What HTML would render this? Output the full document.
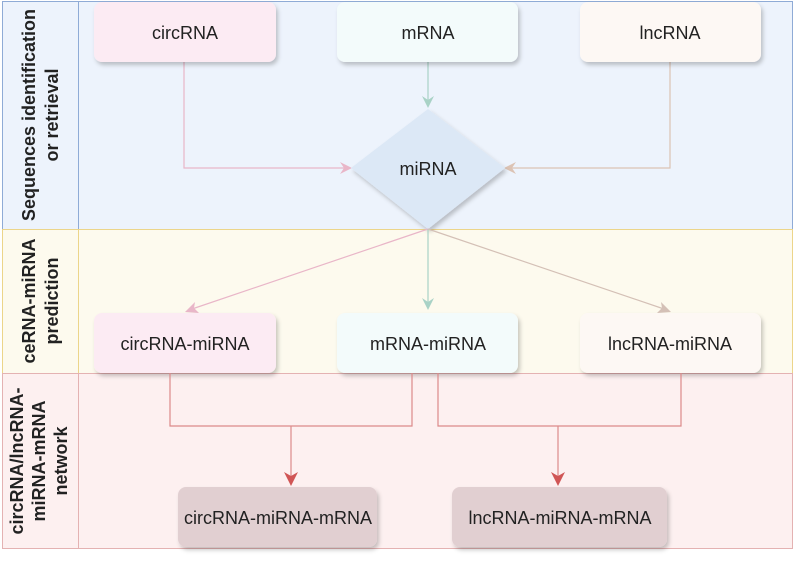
<!DOCTYPE html>
<html><head><meta charset="utf-8"><style>
body{margin:0;background:#fff;width:800px;height:558px;overflow:hidden;font-family:"Liberation Sans",sans-serif}
</style></head><body>
<svg width="800" height="558" viewBox="0 0 800 558" xmlns="http://www.w3.org/2000/svg" font-family="Liberation Sans, sans-serif">
<defs>
<filter id="sh" x="-10%" y="-10%" width="130%" height="140%"><feDropShadow dx="2" dy="3" stdDeviation="2" flood-color="#000" flood-opacity="0.22"/></filter>
</defs>
<rect x="2.5" y="1.5" width="790" height="228" fill="#edf3fc" stroke="#8fabd6"/>
<line x1="78.5" y1="1.5" x2="78.5" y2="229.5" stroke="#8fabd6"/>
<rect x="2.5" y="229.5" width="790" height="144" fill="#fdfaee" stroke="#ecd58a"/>
<line x1="78.5" y1="229.5" x2="78.5" y2="373.5" stroke="#ecd58a"/>
<rect x="2.5" y="373.5" width="790" height="175" fill="#fdf0f0" stroke="#e4b2b2"/>
<line x1="78.5" y1="373.5" x2="78.5" y2="548.5" stroke="#e4b2b2"/>
<g font-weight="bold" font-size="18" fill="#222" text-anchor="middle">
<text transform="translate(40,115) rotate(-90)"><tspan x="0" y="-5">Sequences identification</tspan><tspan x="0" y="18">or retrieval</tspan></text>
<text transform="translate(40,301) rotate(-90)"><tspan x="0" y="-5">ceRNA-miRNA</tspan><tspan x="0" y="18">prediction</tspan></text>
<text transform="translate(40,461) rotate(-90)"><tspan x="0" y="-17">circRNA/lncRNA-</tspan><tspan x="0" y="5">miRNA-mRNA</tspan><tspan x="0" y="27">network</tspan></text>
</g>
<polyline points="184,62 184,168 346,168" fill="none" stroke="#e9b6c8" stroke-width="1.2"/>
<polygon points="352,168 340,162 344,168 340,174" fill="#e9b6c8"/>
<polyline points="670,62 670,168 510,168" fill="none" stroke="#dcc3b4" stroke-width="1.2"/>
<polygon points="504,168 516,162 512,168 516,174" fill="#dcc3b4"/>
<line x1="428" y1="62" x2="428" y2="102" stroke="#a9d2c6" stroke-width="1.2"/>
<polygon points="428,108 422,96 428,100 434,96" fill="#a9d2c6"/>
<polygon points="428,109 505,168 428,229 351,168" fill="#dce8f6" filter="url(#sh)"/>
<text x="428" y="175" font-size="18" text-anchor="middle" fill="#222">miRNA</text>
<line x1="428" y1="229" x2="192" y2="309" stroke="#e9b6c8" stroke-width="1.2"/>
<polygon points="185,312 195,302 194,308 199,313" fill="#e9b6c8"/>
<line x1="428" y1="229" x2="428" y2="303" stroke="#a9d2c6" stroke-width="1.2"/>
<polygon points="428,310 422,298 428,302 434,298" fill="#a9d2c6"/>
<line x1="428" y1="229" x2="664" y2="309" stroke="#d4c0b6" stroke-width="1.2"/>
<polygon points="671,312 657,313 662,308 661,302" fill="#d4c0b6"/>
<g filter="url(#sh)">
<rect x="94" y="2" width="182" height="60" rx="8" fill="#fcebf3"/>
<rect x="337" y="2" width="181" height="60" rx="8" fill="#f3fbfb"/>
<rect x="580" y="2" width="181" height="60" rx="8" fill="#fdf8f4"/>
<rect x="94" y="313" width="182" height="60" rx="8" fill="#fcebf3"/>
<rect x="337" y="313" width="181" height="60" rx="8" fill="#f3fbfb"/>
<rect x="580" y="313" width="181" height="60" rx="8" fill="#fdf8f4"/>
<rect x="178" y="487" width="199" height="60" rx="8" fill="#e1cfd1"/>
<rect x="452" y="487" width="215" height="60" rx="8" fill="#e1cfd1"/>
</g>
<g font-size="18" text-anchor="middle" fill="#222">
<text x="185" y="39">circRNA</text>
<text x="428" y="39">mRNA</text>
<text x="670" y="39">lncRNA</text>
<text x="185" y="350">circRNA-miRNA</text>
<text x="428" y="350">mRNA-miRNA</text>
<text x="670" y="350">lncRNA-miRNA</text>
<text x="278" y="524">circRNA-miRNA-mRNA</text>
<text x="560" y="524">lncRNA-miRNA-mRNA</text>
</g>
<g fill="none" stroke="#dc8a8a" stroke-width="1.2">
<polyline points="170,373 170,426 412,426 412,373"/>
<line x1="291" y1="426" x2="291" y2="478"/>
<polyline points="438,373 438,426 681,426 681,373"/>
<line x1="558" y1="426" x2="558" y2="478"/>
</g>
<polygon points="291,486 284,472 291,476 298,472" fill="#d05555"/>
<polygon points="558,486 551,472 558,476 565,472" fill="#d05555"/>
</svg>
</body></html>
